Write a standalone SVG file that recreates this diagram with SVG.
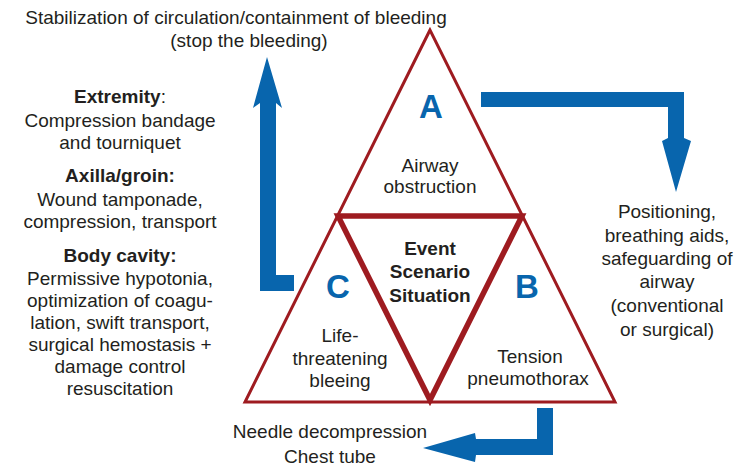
<svg xmlns="http://www.w3.org/2000/svg" width="748" height="476" viewBox="0 0 748 476">
<style>
text{font-family:"Liberation Sans",Arial,sans-serif;font-size:19px;fill:#231f20;text-anchor:middle}
.b{font-weight:bold}
.L{font-weight:bold;font-size:33px;fill:#0865ad}
.tri{fill:none;stroke:#9e1b20;stroke-linejoin:miter}
.arrow{fill:#0865ad}
</style>
<rect width="748" height="476" fill="#ffffff"/>
<g id="triangles">
<polygon class="tri" points="430,30 245,402 615,402" stroke-width="3"/>
<polygon class="tri" points="338,216 522,216 430,400" stroke-width="5.5"/>
</g>
<g id="connectors">
<path class="arrow" d="M260,291 L260,103 L253,108 L267,57 L282,108 L276,103 L276,275 L294,275 L294,291 Z"/>
<path class="arrow" d="M481,92 L684,92 L684,138 L691,141 L676,192 L662,141 L668,138 L668,107 L481,107 Z"/>
<path class="arrow" d="M537,408 L553,408 L553,455 L476,455 L475,462 L423,448 L475,433 L476,439 L537,439 Z"/>
</g>
<g id="title">
<text x="236" y="24">Stabilization of circulation/containment of bleeding</text>
<text x="249" y="47">(stop the bleeding)</text>
</g>
<g id="left-text">
<text x="120" y="103"><tspan class="b">Extremity</tspan>:</text>
<text x="120" y="127">Compression bandage</text>
<text x="120" y="149">and tourniquet</text>
<text class="b" x="120" y="182">Axilla/groin:</text>
<text x="120" y="206">Wound tamponade,</text>
<text x="120" y="228">compression, transport</text>
<text class="b" x="120" y="262">Body cavity:</text>
<text x="120" y="285">Permissive hypotonia,</text>
<text x="120" y="307">optimization of coagu-</text>
<text x="120" y="329">lation, swift transport,</text>
<text x="120" y="351">surgical hemostasis +</text>
<text x="120" y="373">damage control</text>
<text x="120" y="395">resuscitation</text>
</g>
<g id="node-A">
<text class="L" x="431" y="118">A</text>
<text x="430" y="172">Airway</text>
<text x="430" y="193">obstruction</text>
</g>
<g id="node-center">
<text class="b" x="430" y="255">Event</text>
<text class="b" x="430" y="278">Scenario</text>
<text class="b" x="430" y="302">Situation</text>
</g>
<g id="node-C">
<text class="L" x="338" y="298">C</text>
<text x="340" y="342">Life-</text>
<text x="340" y="365">threatening</text>
<text x="340" y="387">bleeing</text>
</g>
<g id="node-B">
<text class="L" x="527" y="298">B</text>
<text x="530" y="363">Tension</text>
<text x="528" y="385">pneumothorax</text>
</g>
<g id="right-text">
<text x="667" y="218">Positioning,</text>
<text x="667" y="242">breathing aids,</text>
<text x="667" y="265">safeguarding of</text>
<text x="667" y="288">airway</text>
<text x="667" y="312">(conventional</text>
<text x="667" y="336">or surgical)</text>
</g>
<g id="bottom-text">
<text x="330" y="438">Needle decompression</text>
<text x="330" y="463">Chest tube</text>
</g>
</svg>
